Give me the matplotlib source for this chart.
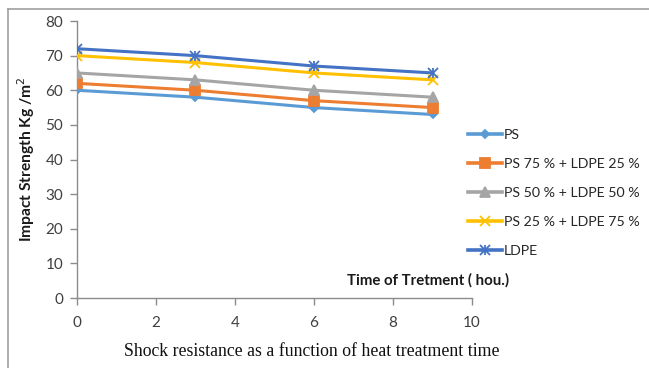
import matplotlib
matplotlib.use("Agg")
import matplotlib.pyplot as plt
from matplotlib.lines import Line2D
from matplotlib.legend_handler import HandlerTuple

hours = [0, 3, 6, 9]
series_names = ["PS", "PS 75 % + LDPE 25 %", "PS 50 % + LDPE 50 %",
                "PS 25 % + LDPE 75 %", "LDPE"]
ps = [60, 58, 55, 53]
ps75_ldpe25 = [62, 60, 57, 55]
ps50_ldpe50 = [65, 63, 60, 58]
ps25_ldpe75 = [70, 68, 65, 63]
ldpe = [72, 70, 67, 65]
x_ticks = [0, 2, 4, 6, 8, 10]
y_ticks = [0, 10, 20, 30, 40, 50, 60, 70, 80]

colors = ["#5B9BD5", "#ED7D31", "#A5A5A5", "#FFC000", "#4472C4"]
markers = ["D", "s", "^", "x", "x"]
msizes = [4.5, 7, 7, 7, 7]

plt.rcParams["font.family"] = ["Lato", "DejaVu Sans"]

fig = plt.figure(figsize=(6.49, 3.68), dpi=100)
ax = fig.add_axes([0.1186, 0.1902, 0.6087, 0.7527])

handles = []
for vals, c, m, ms in zip([ps, ps75_ldpe25, ps50_ldpe50, ps25_ldpe75, ldpe],
                          colors, markers, msizes):
    ax.plot(hours, vals, color=c, lw=2.2, marker=m, ms=ms, mew=1.3, zorder=3)
    h = Line2D([], [], color=c, lw=2.6, marker=m, ms=ms, mew=1.3)
    if c == colors[4]:
        ax.plot(hours, vals, ls="none", marker="|", ms=7, mew=1.3, color=c, zorder=3)
        h = (h, Line2D([], [], ls="none", marker="|", ms=7, mew=1.3, color=c))
    handles.append(h)

ax.set_xlim(0, 10)
ax.set_ylim(0, 80)
ax.set_xticks(x_ticks)
ax.set_yticks(y_ticks)
for s in ["top", "right"]:
    ax.spines[s].set_visible(False)
for s in ["left", "bottom"]:
    ax.spines[s].set_color("#8C8C8C")
    ax.spines[s].set_linewidth(1)
ax.tick_params(axis="both", colors="#8C8C8C", labelcolor="#404040",
               labelsize=11, length=5, width=1)
ax.tick_params(axis="x", pad=8)
ax.tick_params(axis="y", pad=5)

ax.set_ylabel("Impact Strength Kg /m$^2$", fontsize=11.2, fontweight="bold",
              color="#1a1a1a")
ax.yaxis.set_label_coords(-0.1, 0.5)
ax.text(8.88, 5.2, "Time of Tretment ( hou.)", fontsize=10.8, fontweight="bold",
        color="#1a1a1a", ha="center", va="center")

leg = fig.legend(handles, series_names, loc="upper left",
                 bbox_to_anchor=(0.702, 0.685), frameon=False, fontsize=10.2,
                 handlelength=2.4, handletextpad=0.1, labelspacing=1.2,
                 handler_map={tuple: HandlerTuple(ndivide=1)})
for t in leg.get_texts():
    t.set_color("#262626")

fig.text(0.48, 0.046, "Shock resistance as a function of heat treatment time",
         family="Liberation Serif", fontsize=12.8, ha="center", va="center",
         color="#111111")

# outer frame lines (left and top edges)
fig.add_artist(Line2D([0.0123, 0.0123], [0.0, 0.976], color="#A0A0A0", lw=1.2,
                      transform=fig.transFigure))
fig.add_artist(Line2D([0.0123, 1.0], [0.976, 0.976], color="#A0A0A0", lw=1.2,
                      transform=fig.transFigure))

fig.savefig("out.png", dpi=100)
